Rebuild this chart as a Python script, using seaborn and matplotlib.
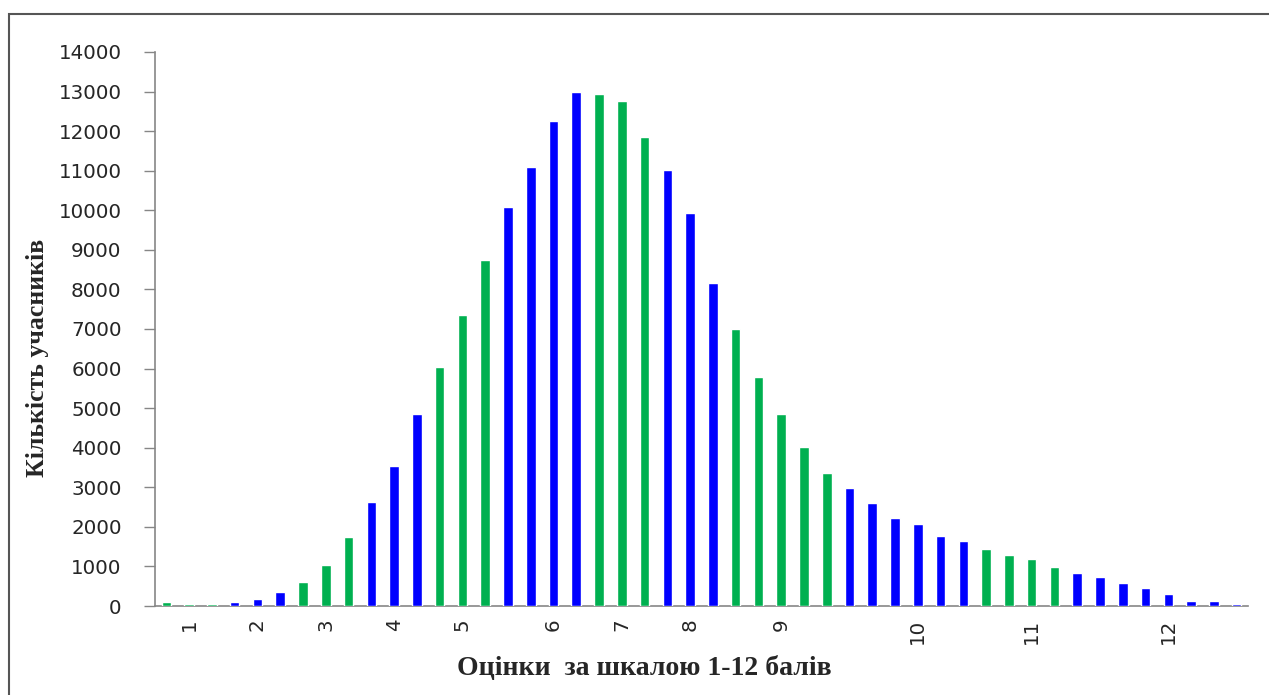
import numpy as np
import pandas as pd
import matplotlib
matplotlib.use("Agg")
import matplotlib.pyplot as plt
import seaborn as sns
from matplotlib.patches import Rectangle

# number of participants for each raw score (48 bars)
counts = [100, 42, 42, 100, 185, 354, 614, 1035, 1742, 2630, 3535, 4840,
          6045, 7357, 8746, 10076, 11094, 12265, 12997, 12946, 12770, 11860,
          11010, 9933, 8173, 7012, 5791, 4857, 4007, 3350, 2988, 2593,
          2230, 2062, 1776, 1633, 1431, 1288, 1178, 976, 842, 724,
          581, 446, 295, 126, 126, 50]
# grade on the 1-12 scale that each bar belongs to
grades = [1]*3 + [2]*3 + [3]*3 + [4]*3 + [5]*3 + [6]*4 + [7]*3 + [8]*3 + \
         [9]*5 + [10]*6 + [11]*4 + [12]*8
# label placed under the middle bar of each grade
label_pos = [1, 4, 7, 10, 13, 17, 20, 23, 27, 33, 38, 44]
label_txt = ["1", "2", "3", "4", "5", "6", "7", "8", "9", "10", "11", "12"]

df = pd.DataFrame({"idx": range(len(counts)), "n": counts, "grade": grades})
df["kind"] = np.where(df.grade % 2 == 1, "odd", "even")

sns.set_style("white")
fig = plt.figure(figsize=(12.69, 6.95), dpi=100)
ax = fig.add_axes([155/1269, 1-606/695, (1248-155)/1269, (606-52)/695])

sns.barplot(data=df, x="idx", y="n", hue="kind", dodge=False, width=0.42,
            palette={"odd": "#00B050", "even": "#0000FF"}, legend=False,
            saturation=1, ax=ax)
for p in ax.patches:
    p.set_zorder(3)

ax.set_xlim(-0.5, len(counts) - 0.5)
ax.set_ylim(0, 14000)
ax.set_yticks(range(0, 14001, 1000))
ax.set_yticklabels([str(v) for v in range(0, 14001, 1000)], fontsize=14.3,
                   color="#262626")

labels = [""] * len(counts)
for p, t in zip(label_pos, label_txt):
    labels[p] = t
ax.set_xticks(range(len(counts)))
ax.set_xticklabels(labels, rotation=90, fontsize=14.3, color="#262626")
ax.set_xticks(np.arange(-0.5, len(counts), 1), minor=True)
ax.tick_params(axis="x", which="major", length=0, pad=9)
ax.tick_params(axis="x", which="minor", length=8, width=1, color="#868686",
               direction="out")
ax.tick_params(axis="y", length=8, width=1, color="#868686", direction="out",
               pad=16, left=True)

for s in ["top", "right"]:
    ax.spines[s].set_visible(False)
for s in ["left", "bottom"]:
    ax.spines[s].set_color("#868686")
    ax.spines[s].set_linewidth(1.2)

ax.set_xlabel("Оцінки  за шкалою 1-12 балів", fontsize=20, fontweight="bold",
              family="Liberation Serif")
ax.set_ylabel("Кількість учасників", fontsize=18.5, fontweight="bold",
              family="Liberation Serif")
ax.xaxis.set_label_coords((644-155)/1093, (606-668)/554)
ax.yaxis.set_label_coords((38-155)/1093, (606-358)/554)
ax.xaxis.label.set_va("center")
ax.yaxis.label.set_va("center")

fig.add_artist(Rectangle((9/1269, -0.1), 1.2, 1.1 - 14/695,
                         transform=fig.transFigure, fill=False,
                         edgecolor="#555555", linewidth=1.5))

fig.savefig("out.png", dpi=100)
